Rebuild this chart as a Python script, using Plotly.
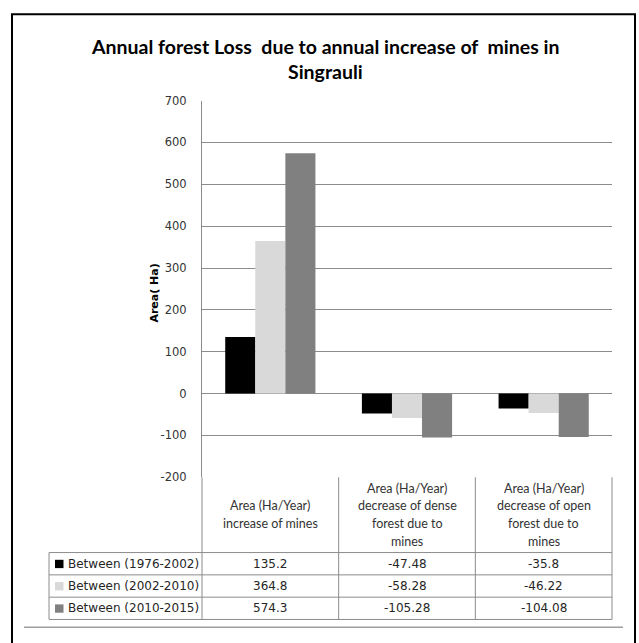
import plotly.graph_objects as go

# ---- data -------------------------------------------------------------
categories = [
    "Area (Ha/Year) increase of mines",
    "Area (Ha/Year) decrease of dense forest due to mines",
    "Area (Ha/Year) decrease of open forest due to mines",
]
header_lines = [
    ["Area (Ha/Year)", "increase of mines"],
    ["Area (Ha/Year)", "decrease of dense", "forest due to", "mines"],
    ["Area (Ha/Year)", "decrease of open", "forest due to", "mines"],
]
series_names = ["Between (1976-2002)", "Between (2002-2010)", "Between (2010-2015)"]
values_1976_2002 = [135.2, -47.48, -35.8]
values_2002_2010 = [364.8, -58.28, -46.22]
values_2010_2015 = [574.3, -105.28, -104.08]
series_values = [values_1976_2002, values_2002_2010, values_2010_2015]
series_colors = ["#000000", "#d9d9d9", "#808080"]

y_ticks = [-200, -100, 0, 100, 200, 300, 400, 500, 600, 700]

# ---- layout helpers (pixel -> paper) ----------------------------------
W, H = 639, 643


def px(x):
    return x / W


def py(y):
    return 1 - y / H


PLOT_L, PLOT_R = 202, 612
PLOT_T, PLOT_B = 95.7, 480.7
LEG_L = 49
ROW_TOP = 557.7
ROW_H = 22.8
GRID = "#8c8c8c"
TICK_FONT = dict(family="DejaVu Sans", size=11.5, color="#333333")
TABLE_FONT = dict(family="DejaVu Sans", size=12, color="#262626")
HEAD_FONT = dict(family="Lato", size=12.5, color="#333333")
TITLE_FONT = dict(family="Lato", size=19.5, color="#000000")

fig = go.Figure()
for name, vals, col in zip(series_names, series_values, series_colors):
    fig.add_trace(go.Bar(
        x=categories, y=vals, name=name,
        marker=dict(color=col, line=dict(width=0)),
        showlegend=False,
    ))

shapes = []
annotations = []

# outer chart border and bottom rule
shapes.append(dict(type="rect", xref="paper", yref="paper",
                   x0=px(12), x1=px(635), y0=py(660), y1=py(7.5),
                   line=dict(color="#000000", width=2)))
shapes.append(dict(type="line", xref="paper", yref="paper",
                   x0=px(24), x1=px(623), y0=py(634), y1=py(634),
                   line=dict(color="#a0a0a0", width=1.5)))

# data table grid
cat_edges = [PLOT_L + (PLOT_R - PLOT_L) * k / 3 for k in range(4)]
table_bottom = ROW_TOP + ROW_H * len(series_names)
for xe in cat_edges:
    shapes.append(dict(type="line", xref="paper", yref="paper",
                       x0=px(xe), x1=px(xe), y0=py(PLOT_B), y1=py(table_bottom),
                       line=dict(color=GRID, width=1)))
shapes.append(dict(type="line", xref="paper", yref="paper",
                   x0=px(LEG_L), x1=px(LEG_L), y0=py(ROW_TOP), y1=py(table_bottom),
                   line=dict(color=GRID, width=1)))
for r in range(len(series_names) + 1):
    yy = ROW_TOP + ROW_H * r
    shapes.append(dict(type="line", xref="paper", yref="paper",
                       x0=px(LEG_L), x1=px(PLOT_R), y0=py(yy), y1=py(yy),
                       line=dict(color=GRID, width=1)))

# column headers
head_center = (PLOT_B + ROW_TOP) / 2
line_step = 18.3
for c, lines in enumerate(header_lines):
    xc = (cat_edges[c] + cat_edges[c + 1]) / 2
    n = len(lines)
    for i, ln in enumerate(lines):
        yy = head_center + (i - (n - 1) / 2) * line_step
        annotations.append(dict(xref="paper", yref="paper", x=px(xc), y=py(yy),
                                text=ln, showarrow=False, font=HEAD_FONT,
                                xanchor="center", yanchor="middle"))

# rows: legend key, series name, values
for r, (name, vals, col) in enumerate(zip(series_names, series_values, series_colors)):
    yc = ROW_TOP + ROW_H * (r + 0.5)
    shapes.append(dict(type="rect", xref="paper", yref="paper",
                       x0=px(55), x1=px(63.5), y0=py(yc + 4.5), y1=py(yc - 4),
                       fillcolor=col, line=dict(width=0)))
    annotations.append(dict(xref="paper", yref="paper", x=px(66), y=py(yc),
                            text=name, showarrow=False, font=TABLE_FONT,
                            xanchor="left", yanchor="middle"))
    for c, v in enumerate(vals):
        xc = (cat_edges[c] + cat_edges[c + 1]) / 2
        annotations.append(dict(xref="paper", yref="paper", x=px(xc), y=py(yc),
                                text=str(v), showarrow=False, font=TABLE_FONT,
                                xanchor="center", yanchor="middle"))

# y-axis title
annotations.append(dict(xref="paper", yref="paper", x=px(155), y=py(293),
                        text="<b>Area( Ha)</b>", textangle=-90, showarrow=False,
                        font=dict(family="DejaVu Sans", size=11, color="#000000"),
                        xanchor="center", yanchor="middle"))

# chart title
annotations.append(dict(xref="paper", yref="paper", x=px(325), y=py(40),
                        text="<b>Annual forest Loss  due to annual increase of  mines in</b>",
                        showarrow=False, font=TITLE_FONT,
                        xanchor="center", yanchor="middle"))
annotations.append(dict(xref="paper", yref="paper", x=px(325), y=py(65.5),
                        text="<b>Singrauli</b>", showarrow=False, font=TITLE_FONT,
                        xanchor="center", yanchor="middle"))

fig.update_layout(
    width=W, height=H, autosize=False,
    margin=dict(l=0, r=0, t=0, b=0),
    paper_bgcolor="#ffffff", plot_bgcolor="#ffffff",
    barmode="group", bargap=0.34, bargroupgap=0,
    shapes=shapes, annotations=annotations,
    xaxis=dict(domain=[px(PLOT_L), px(PLOT_R)], range=[-0.5, 2.5],
               showticklabels=False, showgrid=False, zeroline=False,
               showline=False, ticks=""),
    yaxis=dict(domain=[py(PLOT_B), py(PLOT_T)], range=[-200, 700],
               tickvals=y_ticks, ticktext=[str(t) for t in y_ticks],
               showgrid=True, gridcolor=GRID, gridwidth=1,
               zeroline=False, showline=True, linecolor=GRID, linewidth=1,
               ticks="", ticklabelstandoff=12, tickfont=TICK_FONT),
)

fig.write_html("out.html")
